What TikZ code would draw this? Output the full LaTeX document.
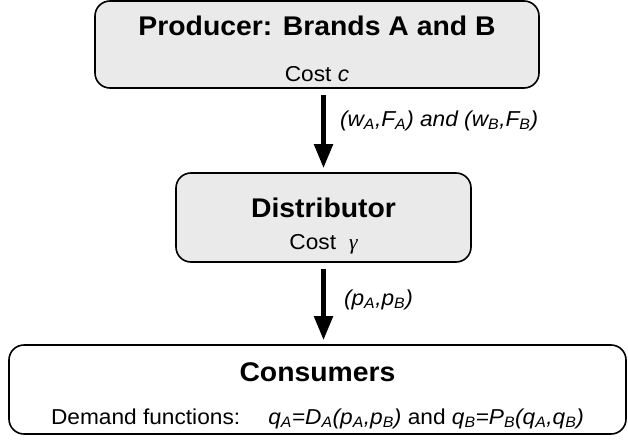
\documentclass[tikz,border=0pt]{standalone}
\RequirePackage{fix-cm}
\usepackage{fontspec}
\setmainfont{Liberation Sans}[FakeStretch=1.05]
\newfontfamily\greekfont{Liberation Serif}
\usetikzlibrary{arrows.meta,positioning,calc}
\definecolor{boxgray}{HTML}{EAEAEA}
\newcommand{\lo}[1]{\textsubscript{#1}}
\tikzset{%
  >={Triangle[width=18pt,length=24pt]},
  % Specifications for style of nodes:
         box/.style = {rectangle, rounded corners=15pt, draw=black,
                       line width=1.6pt, inner sep=0pt, fill=white},
     grayBox/.style = {box, fill=boxgray},
   titleText/.style = {font=\fontsize{27}{32}\selectfont\bfseries,
                       anchor=base, inner sep=0pt},
  detailText/.style = {font=\fontsize{21.6}{25}\selectfont,
                       anchor=base, inner sep=0pt},
        flow/.style = {->, line width=5pt, shorten <=6pt, shorten >=4pt},
   flowLabel/.style = {font=\fontsize{21.6}{25}\selectfont\itshape,
                       anchor=west, inner sep=0pt},
}

\begin{document}
\begin{tikzpicture}[x=1pt, y=-1pt]
\useasboundingbox (0,0) rectangle (628,441);

\node (Producer)    [grayBox, minimum width=444pt, minimum height=87pt] at (317,44.5) {};
\node (ProdName)    [titleText]  at ($(Producer.north)+(0,35)$) {Producer: Brands A and B};
\node (ProdCost)    [detailText] at ($(Producer.north)+(0,81)$) {Cost \textit{c}};

\node (Distributor) [grayBox, minimum width=295pt, minimum height=89pt] at (323.5,217.5) {};
\node (DistName)    [titleText]  at ($(Distributor.north)+(0,45)$) {Distributor};
\node (DistCost)    [detailText] at ($(Distributor.north)+(0,77)$) {Cost\hspace{0.6em}{\greekfont\itshape γ}};

\node (Consumers)   [box, minimum width=617pt, minimum height=89pt] at (317.5,389.5) {};
\node (ConsName)    [titleText]  at ($(Consumers.north)+(0,37)$) {Consumers};
\node (ConsDemand)  [detailText] at ($(Consumers.north)+(0,80)$)
  {Demand functions:\hspace{1.3em}\textit{q\lo{A}=D\lo{A}(p\lo{A},p\lo{B})} and
   \textit{q\lo{B}=P\lo{B}(q\lo{A},q\lo{B})}};

\draw[flow] (Producer.south -| Distributor.north) --
  node[flowLabel, xshift=14pt, yshift=10pt] {(w\lo{A},F\lo{A}) and (w\lo{B},F\lo{B})}
  (Distributor.north);
\draw[flow] (Distributor.south) --
  node[flowLabel, xshift=18pt, yshift=4pt] {(p\lo{A},p\lo{B})}
  (Distributor.south |- Consumers.north);
\end{tikzpicture}
\end{document}
